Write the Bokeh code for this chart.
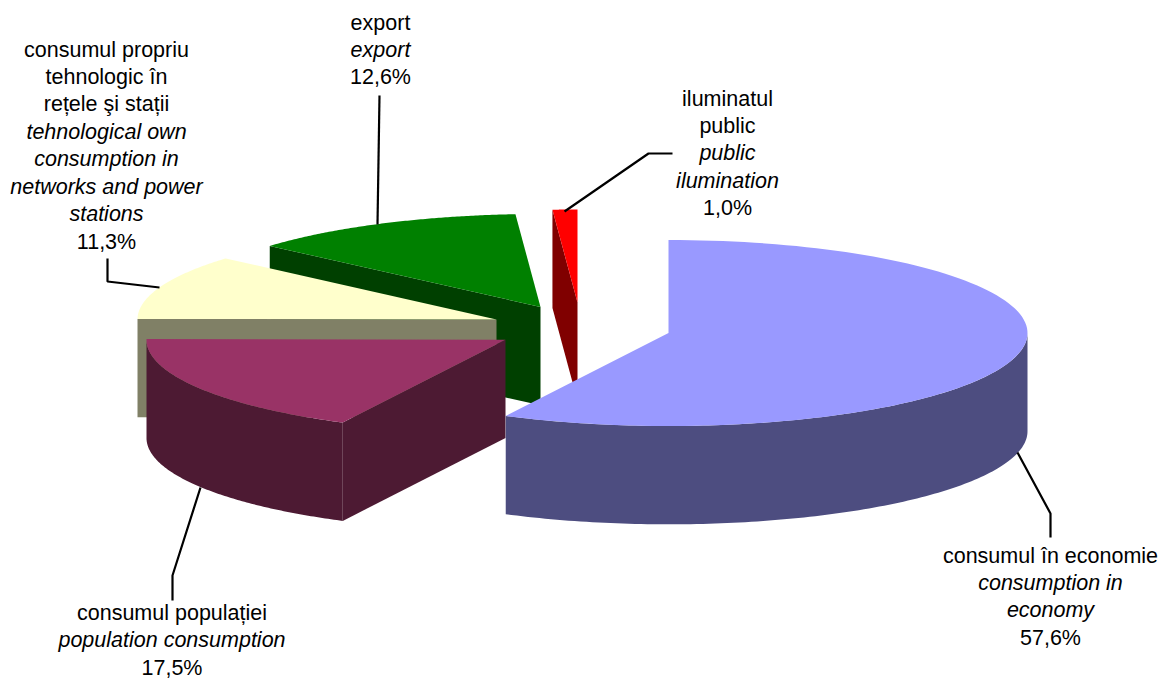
import numpy as np
from bokeh.plotting import figure
from bokeh.embed import file_html
from bokeh.resources import INLINE
from bokeh.core.properties import value

# data
categories = ["economy", "population", "own", "export", "public"]
shares = [57.6, 17.5, 11.3, 12.6, 1.0]
top_colors = ["#9999FF", "#993366", "#FFFFCC", "#008000", "#FF0000"]
side_colors = ["#4D4D80", "#4D1A33", "#808066", "#004000", "#800000"]
label_romanian = [
    ["consumul în economie"],
    ["consumul populației"],
    ["consumul propriu", "tehnologic în", "rețele şi stații"],
    ["export"],
    ["iluminatul", "public"],
]
label_english = [
    ["consumption in", "economy"],
    ["population consumption"],
    ["tehnological own", "consumption in", "networks and power", "stations"],
    ["export"],
    ["public", "ilumination"],
]
percent_texts = ["57,6%", "17,5%", "11,3%", "12,6%", "1,0%"]

# layout of the exploded pie, in page pixels
RX, RY, DEPTH = 359.0, 93.0, 98.3
centers = {"economy": (668, 332.5), "population": (505, 339.2), "own": (496, 319),
           "export": (540, 306.5), "public": (577, 302)}
label_pos = {"economy": (1050, 555), "population": (171.5, 612.5), "own": (106, 49),
             "export": (380, 22), "public": (727, 98)}
LINE_H = 27.45
leaders = {
    "economy": ([1017, 1050, 1050], [452, 513, 537]),
    "population": ([200, 172, 172], [487, 575, 600]),
    "own": ([159, 107, 107], [287, 281, 258]),
    "export": ([377, 379], [224, 95]),
    "public": ([564, 648, 672], [211, 153, 153]),
}
# small perspective correction of the slice boundaries, degrees
angle_nudge = [0, -0.4, 0, 0, -0.4, 0]

W, H = 1162, 679
p = figure(width=W, height=H, x_range=(0, W), y_range=(H, 0),
           output_backend="svg", toolbar_location=None, min_border=0,
           outline_line_color=None, background_fill_color="white")
p.axis.visible = False
p.grid.visible = False


def pt(c, theta, dy=0.0):
    t = np.radians(theta)
    return c[0] + RX * np.sin(t), c[1] - RY * np.cos(t) + dy


def arc(c, a, b, dy=0.0):
    th = np.linspace(a, b, 120)
    return pt(c, th, dy)


cum = np.cumsum([0.0] + shares) * 3.6 + np.array(angle_nudge)
bounds = {k: (cum[i], cum[i + 1]) for i, k in enumerate(categories)}
colors = {k: (top_colors[i], side_colors[i]) for i, k in enumerate(categories)}


def draw_patch(x, y, col):
    p.patch(list(x), list(y), fill_color=col, line_color=None)


def cut_face(k, theta):
    c = centers[k]
    x, y = pt(c, theta)
    draw_patch([c[0], x, x, c[0]], [c[1], y, y + DEPTH, c[1] + DEPTH], colors[k][1])


def wall(k, a, b):
    c = centers[k]
    x1, y1 = arc(c, a, b)
    x2, y2 = arc(c, b, a, DEPTH)
    draw_patch(np.r_[x1, x2], np.r_[y1, y2], colors[k][1])


def top(k):
    c = centers[k]
    a, b = bounds[k]
    x, y = arc(c, a, b)
    draw_patch(np.r_[c[0], x], np.r_[c[1], y], colors[k][0])


# painter's order, back to front
cut_face("public", bounds["public"][0]); top("public")
cut_face("export", bounds["export"][0]); top("export")
cut_face("own", bounds["own"][0]); top("own")
cut_face("population", bounds["population"][0]); wall("population", *bounds["population"]); top("population")
wall("economy", 90, bounds["economy"][1]); top("economy")

# leader lines
for k in categories:
    xs, ys = leaders[k]
    p.line(xs, ys, line_color="black", line_width=2.2)

# labels
FONT = value("Liberation Sans")
SIZE = value("21.5px")
for i, k in enumerate(categories):
    x0, y0 = label_pos[k]
    row = 0
    for style, lines in (("normal", label_romanian[i]), ("italic", label_english[i]), ("normal", [percent_texts[i]])):
        for s in lines:
            p.text([x0], [y0 + row * LINE_H], text=[s], text_font=FONT, text_font_size=SIZE,
                   text_font_style=style, text_align="center", text_baseline="middle", text_color="black")
            row += 1

open("out.html", "w").write(file_html(p, INLINE))
